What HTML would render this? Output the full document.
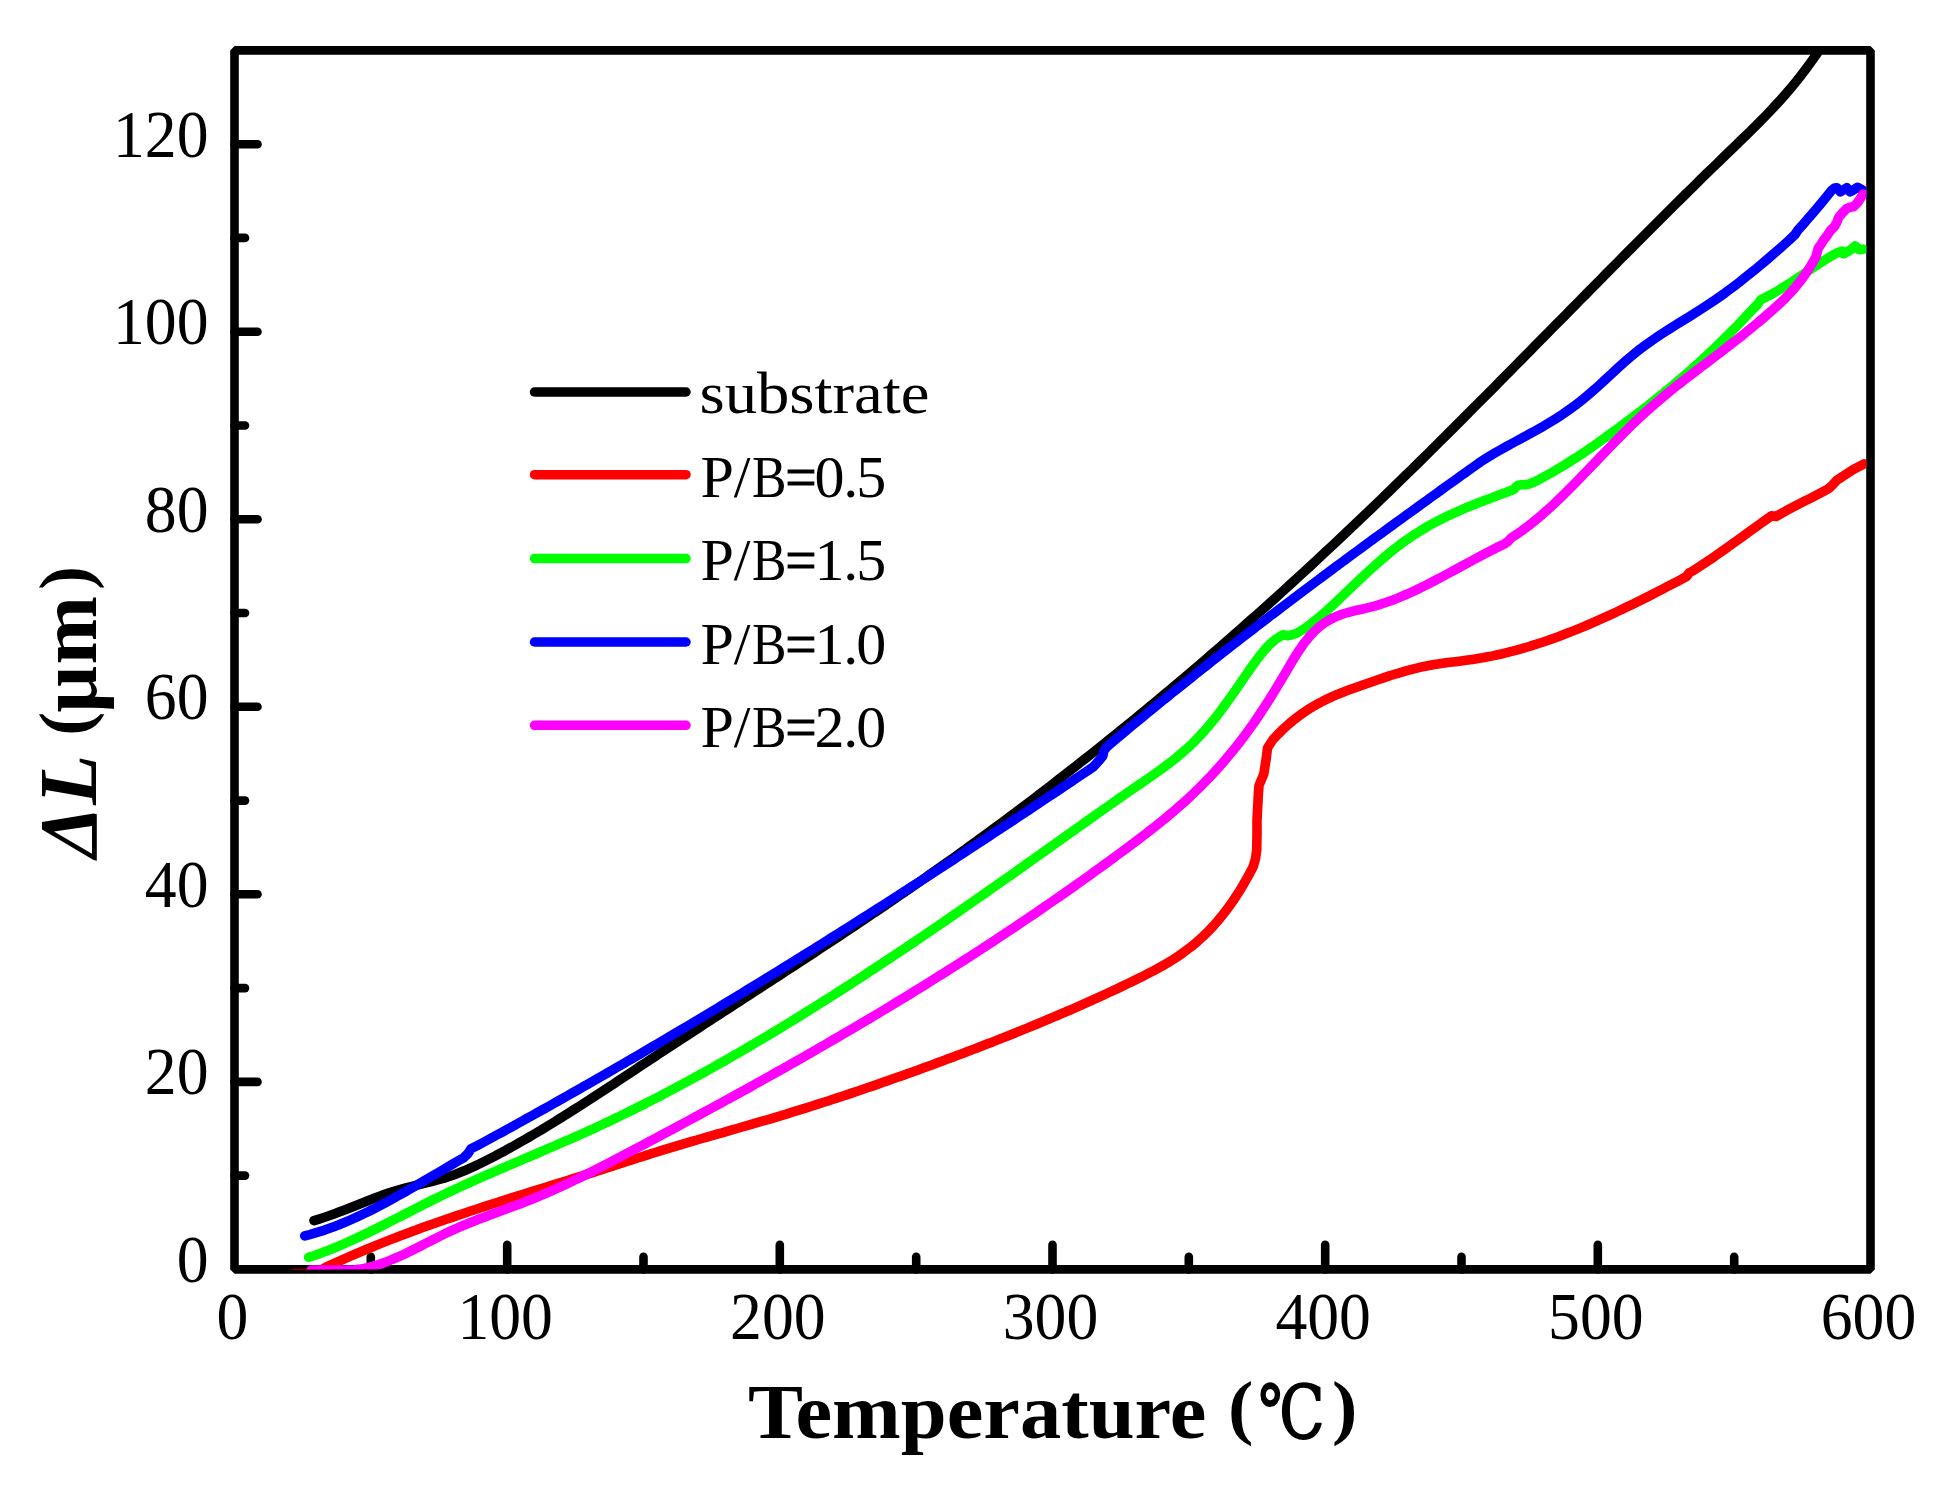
<!DOCTYPE html>
<html lang="en"><head><meta charset="utf-8"><title>Thermal expansion</title>
<style>
html,body{margin:0;padding:0;background:#fff}
body{width:1947px;height:1488px;overflow:hidden}
svg{display:block}
text{font-family:"Liberation Serif","DejaVu Serif",serif;fill:#000}
.tl text{font-size:68.5px}
.lg text{font-size:60px}
</style></head><body>
<svg width="1947" height="1488" viewBox="0 0 1947 1488">
<rect width="1947" height="1488" fill="#fff"/>
<defs><clipPath id="plot"><rect x="234.5" y="50.4" width="1631.8" height="1219.0"/></clipPath></defs>
<rect x="234.5" y="50.4" width="1636.0" height="1219.0" fill="none" stroke="#000" stroke-width="8.6" stroke-linejoin="bevel"/>
<g stroke="#000" stroke-width="8.6" stroke-linecap="round">
<line x1="370.8" y1="1269.4" x2="370.8" y2="1256.9"/>
<line x1="507.2" y1="1269.4" x2="507.2" y2="1244.9"/>
<line x1="643.5" y1="1269.4" x2="643.5" y2="1256.9"/>
<line x1="779.8" y1="1269.4" x2="779.8" y2="1244.9"/>
<line x1="916.2" y1="1269.4" x2="916.2" y2="1256.9"/>
<line x1="1052.5" y1="1269.4" x2="1052.5" y2="1244.9"/>
<line x1="1188.8" y1="1269.4" x2="1188.8" y2="1256.9"/>
<line x1="1325.2" y1="1269.4" x2="1325.2" y2="1244.9"/>
<line x1="1461.5" y1="1269.4" x2="1461.5" y2="1256.9"/>
<line x1="1597.8" y1="1269.4" x2="1597.8" y2="1244.9"/>
<line x1="1734.2" y1="1269.4" x2="1734.2" y2="1256.9"/>
<line x1="234.5" y1="1175.6" x2="245.0" y2="1175.6"/>
<line x1="234.5" y1="1081.9" x2="257.5" y2="1081.9"/>
<line x1="234.5" y1="988.1" x2="245.0" y2="988.1"/>
<line x1="234.5" y1="894.3" x2="257.5" y2="894.3"/>
<line x1="234.5" y1="800.6" x2="245.0" y2="800.6"/>
<line x1="234.5" y1="706.8" x2="257.5" y2="706.8"/>
<line x1="234.5" y1="613.0" x2="245.0" y2="613.0"/>
<line x1="234.5" y1="519.2" x2="257.5" y2="519.2"/>
<line x1="234.5" y1="425.5" x2="245.0" y2="425.5"/>
<line x1="234.5" y1="331.7" x2="257.5" y2="331.7"/>
<line x1="234.5" y1="237.9" x2="245.0" y2="237.9"/>
<line x1="234.5" y1="144.2" x2="257.5" y2="144.2"/>
</g>
<g clip-path="url(#plot)" fill="none" stroke-width="9.6" stroke-linecap="round" stroke-linejoin="round">
<path d="M314.0 1220.6 319.0 1219.1 324.0 1217.5 329.0 1215.8 334.0 1214.0 339.0 1212.1 344.0 1210.2 349.0 1208.2 354.1 1206.2 359.1 1204.2 364.1 1202.2 369.1 1200.2 374.1 1198.3 379.1 1196.4 384.1 1194.6 389.1 1192.9 394.1 1191.3 399.1 1189.8 404.1 1188.4 409.1 1187.1 414.1 1185.8 419.1 1184.6 424.1 1183.4 429.2 1182.2 434.2 1180.9 439.2 1179.5 444.2 1178.1 449.2 1176.5 454.2 1174.7 459.2 1172.8 464.2 1170.8 469.2 1168.6 474.2 1166.3 479.2 1164.0 484.2 1161.5 489.2 1159.0 494.2 1156.4 499.2 1153.7 504.3 1151.1 509.3 1148.3 514.3 1145.6 519.3 1142.7 524.3 1139.9 529.3 1137.0 534.3 1134.0 539.3 1131.1 544.3 1128.1 549.3 1125.0 554.3 1122.0 559.3 1118.9 564.3 1115.7 569.3 1112.6 574.3 1109.4 579.4 1106.2 584.4 1103.0 589.4 1099.8 594.4 1096.5 599.4 1093.3 604.4 1090.0 609.4 1086.7 614.4 1083.4 619.4 1080.1 624.4 1076.8 629.4 1073.5 634.4 1070.2 639.4 1066.8 644.4 1063.5 649.4 1060.2 654.5 1056.9 659.5 1053.6 664.5 1050.3 669.5 1047.0 674.5 1043.7 679.5 1040.5 684.5 1037.2 689.5 1033.9 694.5 1030.7 699.5 1027.4 704.5 1024.1 709.5 1020.9 714.5 1017.6 719.5 1014.4 724.5 1011.1 729.6 1007.9 734.6 1004.6 739.6 1001.4 744.6 998.1 749.6 994.9 754.6 991.6 759.6 988.4 764.6 985.1 769.6 981.9 774.6 978.6 779.6 975.4 784.6 972.1 789.6 968.8 794.6 965.6 799.6 962.3 804.7 959.0 809.7 955.7 814.7 952.4 819.7 949.1 824.7 945.8 829.7 942.5 834.7 939.2 839.7 935.9 844.7 932.6 849.7 929.2 854.7 925.9 859.7 922.6 864.7 919.2 869.7 915.8 874.7 912.4 879.8 909.1 884.8 905.7 889.8 902.3 894.8 898.8 899.8 895.4 904.8 892.0 909.8 888.5 914.8 885.0 919.8 881.6 924.8 878.1 929.8 874.5 934.8 871.0 939.8 867.5 944.8 863.9 949.8 860.4 954.9 856.8 959.9 853.2 964.9 849.6 969.9 846.0 974.9 842.4 979.9 838.7 984.9 835.0 989.9 831.4 994.9 827.7 999.9 824.0 1004.9 820.3 1009.9 816.5 1014.9 812.8 1019.9 809.0 1024.9 805.3 1030.0 801.5 1035.0 797.7 1040.0 793.8 1045.0 790.0 1050.0 786.2 1055.0 782.3 1060.0 778.4 1065.0 774.5 1070.0 770.6 1075.0 766.7 1080.0 762.8 1085.0 758.9 1090.0 754.9 1095.0 750.9 1100.0 746.9 1105.0 742.9 1110.1 738.9 1115.1 734.9 1120.1 730.8 1125.1 726.8 1130.1 722.7 1135.1 718.6 1140.1 714.5 1145.1 710.4 1150.1 706.2 1155.1 702.1 1160.1 697.9 1165.1 693.8 1170.1 689.6 1175.1 685.3 1180.1 681.1 1185.2 676.9 1190.2 672.6 1195.2 668.4 1200.2 664.1 1205.2 659.8 1210.2 655.5 1215.2 651.2 1220.2 646.8 1225.2 642.5 1230.2 638.1 1235.2 633.7 1240.2 629.3 1245.2 624.9 1250.2 620.4 1255.2 616.0 1260.3 611.5 1265.3 607.1 1270.3 602.6 1275.3 598.1 1280.3 593.5 1285.3 589.0 1290.3 584.4 1295.3 579.9 1300.3 575.3 1305.3 570.7 1310.3 566.1 1315.3 561.4 1320.3 556.8 1325.3 552.1 1330.3 547.5 1335.4 542.8 1340.4 538.1 1345.4 533.3 1350.4 528.6 1355.4 523.8 1360.4 519.1 1365.4 514.3 1370.4 509.5 1375.4 504.7 1380.4 499.9 1385.4 495.0 1390.4 490.2 1395.4 485.3 1400.4 480.4 1405.4 475.5 1410.5 470.6 1415.5 465.7 1420.5 460.8 1425.5 455.8 1430.5 450.9 1435.5 445.9 1440.5 440.9 1445.5 436.0 1450.5 431.0 1455.5 426.0 1460.5 421.0 1465.5 416.0 1470.5 410.9 1475.5 405.9 1480.5 400.9 1485.6 395.9 1490.6 390.8 1495.6 385.8 1500.6 380.7 1505.6 375.7 1510.6 370.6 1515.6 365.5 1520.6 360.5 1525.6 355.4 1530.6 350.3 1535.6 345.2 1540.6 340.2 1545.6 335.1 1550.6 330.0 1555.6 324.9 1560.7 319.8 1565.7 314.8 1570.7 309.7 1575.7 304.6 1580.7 299.5 1585.7 294.5 1590.7 289.4 1595.7 284.3 1600.7 279.3 1605.7 274.2 1610.7 269.1 1615.7 264.1 1620.7 259.0 1625.7 254.0 1630.7 249.0 1635.8 243.9 1640.8 238.9 1645.8 233.9 1650.8 228.9 1655.8 223.9 1660.8 218.9 1665.8 213.9 1670.8 208.9 1675.8 203.9 1680.8 199.0 1685.8 194.0 1690.8 189.1 1695.8 184.2 1700.8 179.2 1705.8 174.3 1710.9 169.4 1715.9 164.6 1720.9 159.7 1725.9 154.8 1730.9 150.0 1735.9 145.2 1740.9 140.3 1745.9 135.5 1750.9 130.6 1755.9 125.6 1760.9 120.6 1765.9 115.5 1770.9 110.2 1775.9 104.9 1780.9 99.4 1786.0 93.7 1791.0 87.8 1796.0 81.7 1801.0 75.4 1806.0 68.8 1811.0 62.0 1816.0 54.9 1821.0 47.5" stroke="#000"/>
<path d="M294.0 1273.6 308.0 1273.2 316.0 1271.8 322.0 1269.6 326.0 1267.2 331.0 1264.9 336.0 1262.6 341.0 1260.3 346.0 1258.1 351.1 1255.9 356.1 1253.8 361.1 1251.6 366.1 1249.5 371.1 1247.5 376.1 1245.4 381.1 1243.4 386.1 1241.4 391.2 1239.4 396.2 1237.5 401.2 1235.6 406.2 1233.7 411.2 1231.8 416.2 1230.0 421.2 1228.1 426.2 1226.3 431.3 1224.5 436.3 1222.8 441.3 1221.0 446.3 1219.3 451.3 1217.6 456.3 1215.9 461.3 1214.2 466.3 1212.5 471.4 1210.8 476.4 1209.2 481.4 1207.5 486.4 1205.9 491.4 1204.3 496.4 1202.7 501.4 1201.1 506.4 1199.5 511.5 1197.9 516.5 1196.3 521.5 1194.8 526.5 1193.2 531.5 1191.6 536.5 1190.1 541.5 1188.5 546.5 1187.0 551.6 1185.4 556.6 1183.9 561.6 1182.3 566.6 1180.7 571.6 1179.2 576.6 1177.6 581.6 1176.0 586.6 1174.4 591.7 1172.8 596.7 1171.2 601.7 1169.6 606.7 1168.0 611.7 1166.4 616.7 1164.8 621.7 1163.1 626.7 1161.5 631.8 1159.9 636.8 1158.3 641.8 1156.7 646.8 1155.1 651.8 1153.5 656.8 1152.0 661.8 1150.4 666.8 1148.9 671.9 1147.4 676.9 1145.9 681.9 1144.4 686.9 1142.9 691.9 1141.4 696.9 1140.0 701.9 1138.5 706.9 1137.1 712.0 1135.7 717.0 1134.2 722.0 1132.8 727.0 1131.3 732.0 1129.9 737.0 1128.5 742.0 1127.0 747.0 1125.6 752.1 1124.1 757.1 1122.7 762.1 1121.2 767.1 1119.8 772.1 1118.3 777.1 1116.8 782.1 1115.3 787.1 1113.8 792.2 1112.2 797.2 1110.7 802.2 1109.1 807.2 1107.6 812.2 1106.0 817.2 1104.4 822.2 1102.8 827.2 1101.2 832.3 1099.5 837.3 1097.9 842.3 1096.3 847.3 1094.6 852.3 1092.9 857.3 1091.2 862.3 1089.5 867.3 1087.8 872.4 1086.1 877.4 1084.4 882.4 1082.6 887.4 1080.9 892.4 1079.1 897.4 1077.3 902.4 1075.6 907.4 1073.8 912.5 1072.0 917.5 1070.2 922.5 1068.3 927.5 1066.5 932.5 1064.7 937.5 1062.8 942.5 1061.0 947.5 1059.1 952.6 1057.2 957.6 1055.3 962.6 1053.5 967.6 1051.6 972.6 1049.6 977.6 1047.7 982.6 1045.8 987.6 1043.8 992.7 1041.9 997.7 1039.9 1002.7 1037.9 1007.7 1036.0 1012.7 1034.0 1017.7 1031.9 1022.7 1029.9 1027.7 1027.9 1032.8 1025.8 1037.8 1023.7 1042.8 1021.6 1047.8 1019.5 1052.8 1017.4 1057.8 1015.3 1062.8 1013.1 1067.8 1011.0 1072.9 1008.8 1077.9 1006.6 1082.9 1004.4 1087.9 1002.1 1092.9 999.9 1097.9 997.6 1102.9 995.3 1107.9 993.0 1113.0 990.7 1118.0 988.3 1123.0 985.9 1128.0 983.5 1133.0 981.1 1138.0 978.7 1143.0 976.2 1148.0 973.6 1153.1 971.0 1158.1 968.3 1163.1 965.5 1168.1 962.6 1173.1 959.5 1178.1 956.2 1183.1 952.7 1188.1 949.0 1193.2 945.1 1198.2 940.8 1203.2 936.3 1208.2 931.4 1213.2 926.1 1218.2 920.4 1223.2 914.3 1228.2 907.7 1233.3 900.5 1238.3 892.9 1243.3 884.7 1248.3 875.9 1253.3 866.4 1255.6 858.2 1256.7 850.0 1257.0 835.0 1257.0 820.2 1258.4 793.5 1259.0 785.5 1263.8 774.0 1266.3 758.0 1267.5 748.0 1273.0 739.5 1278.0 734.2 1283.0 729.3 1288.0 724.7 1293.0 720.5 1298.0 716.6 1303.0 713.0 1307.9 709.7 1312.9 706.6 1317.9 703.8 1322.9 701.1 1327.9 698.7 1332.9 696.4 1337.9 694.2 1342.9 692.2 1347.9 690.3 1352.9 688.5 1357.9 686.7 1362.9 684.9 1367.9 683.2 1372.9 681.5 1377.8 679.7 1382.8 678.1 1387.8 676.4 1392.8 674.8 1397.8 673.3 1402.8 671.8 1407.8 670.4 1412.8 669.1 1417.8 667.9 1422.8 666.7 1427.8 665.7 1432.8 664.8 1437.8 664.0 1442.8 663.3 1447.7 662.6 1452.7 662.0 1457.7 661.4 1462.7 660.7 1467.7 660.1 1472.7 659.4 1477.7 658.6 1482.7 657.8 1487.7 656.8 1492.7 655.9 1497.7 654.8 1502.7 653.7 1507.7 652.4 1512.6 651.2 1517.6 649.8 1522.6 648.4 1527.6 647.0 1532.6 645.4 1537.6 643.8 1542.6 642.2 1547.6 640.5 1552.6 638.7 1557.6 636.9 1562.6 635.0 1567.6 633.1 1572.6 631.1 1577.6 629.1 1582.5 627.1 1587.5 625.0 1592.5 622.8 1597.5 620.6 1602.5 618.4 1607.5 616.1 1612.5 613.8 1617.5 611.5 1622.5 609.1 1627.5 606.7 1632.5 604.3 1637.5 601.9 1642.5 599.4 1647.5 596.9 1652.4 594.4 1657.4 591.8 1662.4 589.2 1667.4 586.6 1672.4 584.0 1677.4 581.4 1682.4 578.8 1686.5 576.5 1689.5 572.5 1692.7 571.0 1697.7 567.8 1702.6 564.6 1707.6 561.2 1712.5 557.9 1717.5 554.4 1722.4 551.0 1727.4 547.5 1732.3 543.9 1737.3 540.4 1742.2 536.8 1747.2 533.2 1752.1 529.7 1757.1 526.1 1762.0 522.5 1767.0 519.0 1770.0 516.8 1771.5 515.8 1776.0 516.5 1780.8 513.8 1785.6 511.1 1790.3 508.6 1795.1 506.1 1799.9 503.6 1804.7 501.1 1809.5 498.7 1814.3 496.2 1819.0 493.8 1823.8 491.2 1828.6 488.6 1832.0 485.5 1836.8 480.3 1853.3 469.4 1863.9 463.9" stroke="#f00"/>
<path d="M308.7 1257.3 313.7 1255.7 318.7 1253.9 323.7 1252.1 328.7 1250.2 333.7 1248.2 338.7 1246.1 343.8 1243.9 348.8 1241.7 353.8 1239.4 358.8 1237.1 363.8 1234.7 368.8 1232.3 373.8 1229.9 378.8 1227.4 383.8 1224.9 388.8 1222.3 393.8 1219.8 398.8 1217.2 403.9 1214.6 408.9 1212.1 413.9 1209.5 418.9 1206.9 423.9 1204.4 428.9 1201.9 433.9 1199.4 438.9 1197.0 443.9 1194.5 448.9 1192.1 453.9 1189.8 458.9 1187.5 464.0 1185.2 469.0 1182.9 474.0 1180.6 479.0 1178.4 484.0 1176.2 489.0 1174.0 494.0 1171.8 499.0 1169.6 504.0 1167.5 509.0 1165.3 514.0 1163.2 519.0 1161.1 524.1 1158.9 529.1 1156.8 534.1 1154.7 539.1 1152.5 544.1 1150.4 549.1 1148.2 554.1 1146.1 559.1 1143.9 564.1 1141.7 569.1 1139.6 574.1 1137.3 579.1 1135.1 584.2 1132.9 589.2 1130.6 594.2 1128.3 599.2 1126.0 604.2 1123.6 609.2 1121.3 614.2 1118.9 619.2 1116.5 624.2 1114.0 629.2 1111.6 634.2 1109.1 639.2 1106.6 644.3 1104.1 649.3 1101.5 654.3 1099.0 659.3 1096.4 664.3 1093.8 669.3 1091.1 674.3 1088.5 679.3 1085.8 684.3 1083.1 689.3 1080.4 694.3 1077.7 699.3 1075.0 704.4 1072.2 709.4 1069.4 714.4 1066.6 719.4 1063.8 724.4 1061.0 729.4 1058.1 734.4 1055.2 739.4 1052.3 744.4 1049.4 749.4 1046.5 754.4 1043.5 759.4 1040.6 764.5 1037.6 769.5 1034.6 774.5 1031.6 779.5 1028.6 784.5 1025.5 789.5 1022.5 794.5 1019.4 799.5 1016.3 804.5 1013.2 809.5 1010.1 814.5 1007.0 819.5 1003.8 824.5 1000.7 829.6 997.5 834.6 994.3 839.6 991.1 844.6 987.9 849.6 984.7 854.6 981.4 859.6 978.2 864.6 974.9 869.6 971.6 874.6 968.4 879.6 965.1 884.6 961.7 889.7 958.4 894.7 955.1 899.7 951.7 904.7 948.4 909.7 945.0 914.7 941.7 919.7 938.3 924.7 934.9 929.7 931.5 934.7 928.1 939.7 924.6 944.7 921.2 949.8 917.8 954.8 914.3 959.8 910.9 964.8 907.4 969.8 903.9 974.8 900.4 979.8 896.9 984.8 893.5 989.8 889.9 994.8 886.4 999.8 882.9 1004.8 879.4 1009.9 875.9 1014.9 872.3 1019.9 868.8 1024.9 865.3 1029.9 861.7 1034.9 858.1 1039.9 854.6 1044.9 851.0 1049.9 847.5 1054.9 843.9 1059.9 840.3 1064.9 836.8 1070.0 833.2 1075.0 829.6 1080.0 826.1 1085.0 822.5 1090.0 819.0 1095.0 815.4 1100.0 811.9 1105.0 808.4 1110.0 804.9 1115.0 801.3 1120.0 797.8 1125.0 794.4 1130.1 790.9 1135.1 787.4 1140.1 784.0 1145.1 780.6 1150.1 777.1 1155.1 773.6 1160.1 770.1 1165.1 766.4 1170.1 762.6 1175.1 758.7 1180.1 754.5 1185.1 750.2 1190.2 745.6 1195.2 740.7 1200.2 735.5 1205.2 730.0 1210.2 724.1 1215.2 717.9 1220.2 711.5 1225.2 704.7 1230.2 697.8 1235.2 690.7 1240.2 683.4 1245.2 676.1 1250.3 668.8 1255.3 661.7 1260.3 655.1 1265.3 649.1 1270.3 643.8 1275.3 639.5 1280.3 636.4 1283.0 634.7 1287.2 635.7 1291.5 635.0 1297.1 633.0 1302.1 630.0 1307.2 626.7 1312.2 622.9 1317.3 618.9 1322.3 614.6 1327.4 610.1 1332.4 605.5 1337.5 600.7 1342.5 595.9 1347.5 591.1 1352.6 586.3 1357.6 581.5 1362.7 576.8 1367.7 572.1 1372.8 567.5 1377.8 562.9 1382.9 558.5 1387.9 554.3 1392.9 550.1 1398.0 546.2 1403.0 542.4 1408.1 538.8 1413.1 535.4 1418.2 532.2 1423.2 529.1 1428.2 526.1 1433.3 523.3 1438.3 520.7 1443.4 518.1 1448.4 515.7 1453.5 513.3 1458.5 511.1 1463.6 508.9 1468.6 506.8 1473.6 504.8 1478.7 502.8 1483.7 500.8 1488.8 498.9 1493.8 497.0 1498.9 495.1 1503.9 493.2 1509.0 491.2 1514.0 489.3 1516.0 487.0 1518.0 485.2 1521.0 484.8 1525.0 484.8 1529.0 484.0 1533.6 482.3 1538.6 479.8 1543.5 477.1 1548.5 474.4 1553.5 471.6 1558.4 468.7 1563.4 465.7 1568.3 462.6 1573.3 459.4 1578.3 456.2 1583.2 452.9 1588.2 449.5 1593.2 446.1 1598.1 442.6 1603.1 439.1 1608.1 435.5 1613.0 431.9 1618.0 428.3 1622.9 424.6 1627.9 420.9 1632.9 417.2 1637.8 413.4 1642.8 409.6 1647.8 405.7 1652.7 401.8 1657.7 397.8 1662.7 393.8 1667.6 389.8 1672.6 385.6 1677.5 381.4 1682.5 377.2 1687.5 372.9 1692.4 368.5 1697.4 364.1 1702.4 359.5 1707.3 354.9 1712.3 350.3 1717.3 345.5 1722.2 340.7 1727.2 335.8 1732.1 330.8 1737.1 325.8 1742.1 320.6 1747.0 315.3 1752.0 310.0 1757.0 305.0 1761.0 299.5 1766.1 297.1 1771.1 294.5 1776.2 291.6 1781.3 288.6 1786.3 285.4 1791.4 282.2 1796.5 278.8 1801.5 275.4 1806.6 272.0 1811.7 268.6 1816.7 265.2 1821.8 261.9 1826.9 258.7 1831.9 255.7 1837.0 252.8 1841.9 251.2 1843.5 253.7 1846.8 252.0 1850.9 249.6 1855.0 246.0 1856.7 247.1 1859.2 249.6 1863.3 249.2" stroke="#0f0"/>
<path d="M304.7 1235.9 309.7 1234.6 314.6 1233.2 319.6 1231.7 324.6 1230.1 329.5 1228.3 334.5 1226.5 339.5 1224.5 344.4 1222.5 349.4 1220.4 354.4 1218.2 359.3 1215.9 364.3 1213.5 369.3 1211.1 374.2 1208.6 379.2 1206.0 384.1 1203.4 389.1 1200.7 394.1 1198.0 399.0 1195.2 404.0 1192.5 409.0 1189.6 413.9 1186.8 418.9 1183.9 423.9 1181.0 428.8 1178.1 433.8 1175.2 438.8 1172.3 443.7 1169.4 448.7 1166.4 453.7 1163.5 458.6 1160.7 463.6 1157.8 468.0 1153.5 471.0 1148.8 477.0 1145.8 482.0 1143.1 487.0 1140.4 492.0 1137.6 497.0 1134.9 502.1 1132.2 507.1 1129.4 512.1 1126.7 517.1 1123.9 522.1 1121.1 527.1 1118.3 532.1 1115.6 537.1 1112.8 542.1 1110.0 547.2 1107.2 552.2 1104.4 557.2 1101.5 562.2 1098.7 567.2 1095.9 572.2 1093.0 577.2 1090.2 582.2 1087.3 587.3 1084.5 592.3 1081.6 597.3 1078.8 602.3 1075.9 607.3 1073.0 612.3 1070.1 617.3 1067.2 622.3 1064.3 627.3 1061.4 632.4 1058.5 637.4 1055.6 642.4 1052.6 647.4 1049.7 652.4 1046.7 657.4 1043.8 662.4 1040.8 667.4 1037.9 672.4 1034.9 677.5 1031.9 682.5 1029.0 687.5 1026.0 692.5 1023.0 697.5 1020.0 702.5 1017.0 707.5 1014.0 712.5 1011.0 717.5 1008.0 722.6 1004.9 727.6 1001.9 732.6 998.9 737.6 995.8 742.6 992.8 747.6 989.7 752.6 986.6 757.6 983.6 762.6 980.5 767.7 977.4 772.7 974.4 777.7 971.3 782.7 968.2 787.7 965.1 792.7 962.0 797.7 958.9 802.7 955.7 807.8 952.6 812.8 949.5 817.8 946.4 822.8 943.2 827.8 940.1 832.8 936.9 837.8 933.8 842.8 930.6 847.8 927.5 852.9 924.3 857.9 921.1 862.9 917.9 867.9 914.8 872.9 911.6 877.9 908.4 882.9 905.2 887.9 902.0 892.9 898.8 898.0 895.6 903.0 892.3 908.0 889.1 913.0 885.9 918.0 882.7 923.0 879.4 928.0 876.2 933.0 872.9 938.0 869.7 943.1 866.4 948.1 863.2 953.1 859.9 958.1 856.6 963.1 853.4 968.1 850.1 973.1 846.8 978.1 843.5 983.1 840.2 988.2 836.9 993.2 833.6 998.2 830.3 1003.2 827.0 1008.2 823.7 1013.2 820.4 1018.2 817.1 1023.2 813.8 1028.3 810.4 1033.3 807.1 1038.3 803.8 1043.3 800.4 1048.3 797.1 1053.3 793.7 1058.3 790.4 1063.3 787.0 1068.3 783.7 1073.4 780.3 1078.4 776.9 1083.4 773.6 1088.4 770.2 1093.4 766.8 1100.0 759.5 1102.8 756.0 1104.0 750.5 1107.5 746.2 1112.5 742.0 1117.5 737.8 1122.4 733.7 1127.4 729.5 1132.4 725.4 1137.4 721.3 1142.4 717.2 1147.3 713.1 1152.3 709.0 1157.3 705.0 1162.3 700.9 1167.3 696.9 1172.2 692.9 1177.2 688.9 1182.2 684.9 1187.2 680.9 1192.2 676.9 1197.1 672.9 1202.1 669.0 1207.1 665.1 1212.1 661.1 1217.1 657.2 1222.0 653.3 1227.0 649.4 1232.0 645.5 1237.0 641.7 1242.0 637.8 1246.9 634.0 1251.9 630.1 1256.9 626.3 1261.9 622.5 1266.9 618.6 1271.8 614.8 1276.8 611.1 1281.8 607.3 1286.8 603.5 1291.8 599.7 1296.7 596.0 1301.7 592.2 1306.7 588.5 1311.7 584.7 1316.7 581.0 1321.6 577.3 1326.6 573.6 1331.6 569.9 1336.6 566.2 1341.6 562.5 1346.5 558.8 1351.5 555.2 1356.5 551.5 1361.5 547.8 1366.5 544.2 1371.4 540.5 1376.4 536.9 1381.4 533.3 1386.4 529.6 1391.4 526.0 1396.3 522.4 1401.3 518.8 1406.3 515.2 1411.3 511.6 1416.3 508.0 1421.2 504.4 1426.2 500.8 1431.2 497.2 1436.2 493.6 1441.2 490.0 1446.1 486.4 1451.1 482.9 1456.1 479.3 1461.1 475.7 1466.1 472.2 1471.0 468.6 1476.0 465.1 1481.0 461.5 1486.0 458.4 1490.9 455.4 1495.9 452.4 1500.9 449.6 1505.9 446.8 1510.8 444.1 1515.8 441.4 1520.8 438.7 1525.8 436.0 1530.7 433.3 1535.7 430.6 1540.7 427.8 1545.6 424.9 1550.6 421.9 1555.6 418.8 1560.6 415.6 1565.5 412.2 1570.5 408.7 1575.5 405.1 1580.5 401.2 1585.4 397.2 1590.4 393.0 1595.4 388.7 1600.3 384.2 1605.3 379.6 1610.3 375.0 1615.3 370.4 1620.2 365.8 1625.2 361.4 1630.2 357.1 1635.2 353.0 1640.1 349.1 1645.1 345.4 1650.1 341.8 1655.0 338.4 1660.0 335.0 1665.0 331.8 1670.0 328.6 1674.9 325.5 1679.9 322.4 1684.9 319.3 1689.8 316.3 1694.8 313.2 1699.8 310.0 1704.8 306.8 1709.7 303.6 1714.7 300.2 1719.7 296.7 1724.7 293.2 1729.6 289.5 1734.6 285.8 1739.6 282.0 1744.5 278.1 1749.5 274.1 1754.5 270.1 1759.5 265.9 1764.4 261.8 1769.4 257.5 1774.4 253.2 1779.4 248.9 1784.3 244.5 1789.3 240.0 1795.0 234.5 1798.0 230.0 1802.8 224.7 1807.6 219.2 1812.4 213.6 1817.3 207.9 1822.1 202.1 1826.9 196.2 1831.7 190.2 1834.2 188.3 1837.0 187.7 1840.3 191.8 1842.7 190.4 1846.8 187.7 1850.1 191.8 1853.4 190.0 1857.5 187.3 1861.6 189.4 1863.5 191.0" stroke="#00f"/>
<path d="M311.4 1270.0 350.0 1270.0 355.0 1269.7 360.0 1269.1 365.0 1268.2 370.0 1267.1 375.0 1265.7 380.0 1264.1 385.0 1262.4 390.0 1260.4 395.0 1258.3 400.0 1256.1 405.0 1253.8 410.0 1251.4 415.0 1248.9 420.0 1246.4 425.0 1243.8 430.0 1241.3 434.9 1238.7 439.9 1236.2 444.9 1233.7 449.9 1231.4 454.9 1229.1 459.9 1226.9 464.9 1224.8 469.9 1222.7 474.9 1220.7 479.9 1218.8 484.9 1216.9 489.9 1215.0 494.9 1213.2 499.9 1211.3 504.9 1209.5 509.9 1207.6 514.9 1205.8 519.9 1203.9 524.9 1202.0 529.9 1200.0 534.9 1198.0 539.9 1195.9 544.9 1193.8 549.9 1191.6 554.9 1189.3 559.9 1187.1 564.9 1184.8 569.9 1182.4 574.9 1180.0 579.9 1177.6 584.9 1175.1 589.9 1172.6 594.9 1170.1 599.8 1167.6 604.8 1165.0 609.8 1162.4 614.8 1159.8 619.8 1157.2 624.8 1154.6 629.8 1151.9 634.8 1149.3 639.8 1146.6 644.8 1144.0 649.8 1141.3 654.8 1138.7 659.8 1136.0 664.8 1133.3 669.8 1130.7 674.8 1128.0 679.8 1125.3 684.8 1122.6 689.8 1119.9 694.8 1117.2 699.8 1114.5 704.8 1111.8 709.8 1109.1 714.8 1106.4 719.8 1103.7 724.8 1100.9 729.8 1098.2 734.8 1095.5 739.8 1092.7 744.8 1090.0 749.8 1087.2 754.8 1084.4 759.8 1081.6 764.7 1078.9 769.7 1076.1 774.7 1073.3 779.7 1070.5 784.7 1067.7 789.7 1064.8 794.7 1062.0 799.7 1059.2 804.7 1056.3 809.7 1053.5 814.7 1050.6 819.7 1047.7 824.7 1044.8 829.7 1041.9 834.7 1039.0 839.7 1036.1 844.7 1033.2 849.7 1030.3 854.7 1027.3 859.7 1024.4 864.7 1021.4 869.7 1018.5 874.7 1015.5 879.7 1012.5 884.7 1009.5 889.7 1006.5 894.7 1003.4 899.7 1000.4 904.7 997.4 909.7 994.3 914.7 991.2 919.7 988.2 924.7 985.1 929.6 982.0 934.6 978.8 939.6 975.7 944.6 972.6 949.6 969.4 954.6 966.2 959.6 963.1 964.6 959.9 969.6 956.7 974.6 953.4 979.6 950.2 984.6 946.9 989.6 943.7 994.6 940.4 999.6 937.1 1004.6 933.8 1009.6 930.5 1014.6 927.2 1019.6 923.8 1024.6 920.4 1029.6 917.1 1034.6 913.7 1039.6 910.3 1044.6 906.8 1049.6 903.4 1054.6 899.9 1059.6 896.5 1064.6 893.0 1069.6 889.5 1074.6 886.0 1079.6 882.4 1084.6 878.9 1089.6 875.3 1094.5 871.7 1099.5 868.1 1104.5 864.5 1109.5 860.8 1114.5 857.2 1119.5 853.5 1124.5 849.8 1129.5 846.1 1134.5 842.4 1139.5 838.6 1144.5 834.8 1149.5 830.9 1154.5 827.0 1159.5 823.0 1164.5 819.0 1169.5 814.8 1174.5 810.6 1179.5 806.2 1184.5 801.8 1189.5 797.2 1194.5 792.4 1199.5 787.6 1204.5 782.5 1209.5 777.4 1214.5 772.0 1219.5 766.5 1224.5 760.8 1229.5 754.8 1234.5 748.7 1239.5 742.4 1244.5 735.8 1249.5 729.0 1254.5 722.0 1259.4 714.7 1264.4 707.1 1269.4 699.3 1274.4 691.3 1279.4 683.0 1284.4 674.6 1289.4 666.1 1294.4 657.8 1299.4 649.9 1304.4 642.7 1309.4 636.6 1314.4 631.3 1319.4 626.8 1324.4 623.0 1329.4 619.9 1334.4 617.4 1339.4 615.3 1344.4 613.5 1349.4 612.1 1354.4 610.8 1359.4 609.7 1364.4 608.6 1369.4 607.4 1374.4 606.1 1379.4 604.6 1384.4 603.0 1389.4 601.3 1394.4 599.4 1399.4 597.4 1404.4 595.3 1409.4 593.1 1414.4 590.8 1419.4 588.4 1424.3 586.0 1429.3 583.4 1434.3 580.9 1439.3 578.3 1444.3 575.6 1449.3 572.9 1454.3 570.2 1459.3 567.5 1464.3 564.8 1469.3 562.1 1474.3 559.4 1479.3 556.7 1484.3 554.0 1489.3 551.4 1494.3 548.9 1499.3 546.4 1504.3 544.0 1508.0 541.5 1511.0 538.0 1516.0 534.8 1521.0 531.4 1526.0 527.7 1531.0 523.9 1536.0 519.8 1541.0 515.6 1546.0 511.2 1551.0 506.7 1556.0 502.0 1561.0 497.2 1565.9 492.3 1570.9 487.3 1575.9 482.3 1580.9 477.2 1585.9 472.0 1590.9 466.8 1595.9 461.6 1600.9 456.4 1605.9 451.2 1610.9 446.0 1615.9 440.9 1620.9 435.8 1625.9 430.8 1630.9 425.9 1635.9 421.1 1640.9 416.4 1645.9 411.8 1650.9 407.4 1655.9 403.1 1660.9 398.8 1665.8 394.7 1670.8 390.6 1675.8 386.6 1680.8 382.7 1685.8 378.8 1690.8 375.0 1695.8 371.1 1700.8 367.3 1705.8 363.6 1710.8 359.8 1715.8 356.0 1720.8 352.2 1725.8 348.3 1730.8 344.4 1735.8 340.5 1740.8 336.6 1745.8 332.6 1750.8 328.5 1755.8 324.4 1760.8 320.2 1765.7 316.0 1770.7 311.6 1775.7 307.2 1780.7 302.6 1785.7 297.8 1790.7 292.5 1795.7 286.8 1800.7 280.6 1805.7 273.7 1810.7 266.0 1815.7 257.5 1818.3 248.0 1820.5 245.0 1823.7 240.0 1827.1 235.6 1830.4 230.5 1834.5 226.5 1837.0 222.0 1838.6 217.5 1842.7 212.6 1846.8 208.5 1850.1 207.3 1853.4 206.8 1857.5 202.7 1860.8 197.8 1863.3 194.1" stroke="#f0f"/>
</g>
<g stroke-width="9.5" stroke-linecap="round">
<line x1="534.5" y1="392.0" x2="686" y2="392.0" stroke="#000"/>
<line x1="534.5" y1="474.7" x2="686" y2="474.7" stroke="#f00"/>
<line x1="534.5" y1="558.6" x2="686" y2="558.6" stroke="#0f0"/>
<line x1="534.5" y1="642.0" x2="686" y2="642.0" stroke="#00f"/>
<line x1="534.5" y1="725.3" x2="686" y2="725.3" stroke="#f0f"/>
</g>
<g class="lg">
<text transform="translate(699.5 413.2) scale(1.078 1)">substrate</text>
<text x="700.5" y="496.5">P/<tspan dx="1.5" textLength="34.5" lengthAdjust="spacingAndGlyphs">B</tspan><tspan dx="-1.4" stroke="#000" stroke-width="0.9" textLength="31.4" lengthAdjust="spacingAndGlyphs">=</tspan><tspan dx="-2">0</tspan><tspan dx="-1.3">.</tspan><tspan dx="-2">5</tspan></text>
<text x="700.5" y="580.4">P/<tspan dx="1.5" textLength="34.5" lengthAdjust="spacingAndGlyphs">B</tspan><tspan dx="-1.4" stroke="#000" stroke-width="0.9" textLength="31.4" lengthAdjust="spacingAndGlyphs">=</tspan><tspan dx="-2">1</tspan><tspan dx="-1.3">.</tspan><tspan dx="-2">5</tspan></text>
<text x="700.5" y="663.8">P/<tspan dx="1.5" textLength="34.5" lengthAdjust="spacingAndGlyphs">B</tspan><tspan dx="-1.4" stroke="#000" stroke-width="0.9" textLength="31.4" lengthAdjust="spacingAndGlyphs">=</tspan><tspan dx="-2">1</tspan><tspan dx="-1.3">.</tspan><tspan dx="-2">0</tspan></text>
<text x="700.5" y="747.1">P/<tspan dx="1.5" textLength="34.5" lengthAdjust="spacingAndGlyphs">B</tspan><tspan dx="-1.4" stroke="#000" stroke-width="0.9" textLength="31.4" lengthAdjust="spacingAndGlyphs">=</tspan><tspan dx="-2">2</tspan><tspan dx="-1.3">.</tspan><tspan dx="-2">0</tspan></text>
</g>
<g class="tl">
<text text-anchor="middle" transform="translate(232.5 1338.8) scale(0.93 1)">0</text>
<text text-anchor="middle" transform="translate(505.2 1338.8) scale(0.93 1)">100</text>
<text text-anchor="middle" transform="translate(777.8 1338.8) scale(0.93 1)">200</text>
<text text-anchor="middle" transform="translate(1050.5 1338.8) scale(0.93 1)">300</text>
<text text-anchor="middle" transform="translate(1323.2 1338.8) scale(0.93 1)">400</text>
<text text-anchor="middle" transform="translate(1595.8 1338.8) scale(0.93 1)">500</text>
<text text-anchor="middle" transform="translate(1868.5 1338.8) scale(0.93 1)">600</text>
<text text-anchor="end" transform="translate(208.5 1281.9) scale(0.93 1)">0</text>
<text text-anchor="end" transform="translate(208.5 1094.4) scale(0.93 1)">20</text>
<text text-anchor="end" transform="translate(208.5 906.8) scale(0.93 1)">40</text>
<text text-anchor="end" transform="translate(208.5 719.3) scale(0.93 1)">60</text>
<text text-anchor="end" transform="translate(208.5 531.7) scale(0.93 1)">80</text>
<text text-anchor="end" transform="translate(208.5 344.2) scale(0.93 1)">100</text>
<text text-anchor="end" transform="translate(208.5 156.7) scale(0.93 1)">120</text>
</g>
<text transform="translate(748 1437.6) scale(1.058 1)" font-size="78" font-weight="bold">Temperature <tspan x="453.7" dy="-6.5" font-size="72">(</tspan><tspan x="482.6" dy="6.5" font-family="'Liberation Serif','DejaVu Serif','Noto Serif CJK SC',serif" font-weight="normal" font-size="74" textLength="62.5" lengthAdjust="spacingAndGlyphs" stroke="#000" stroke-width="1.8" stroke-linejoin="round">℃</tspan><tspan x="552.1" dy="-6.5" font-size="72">)</tspan></text>
<text transform="translate(96.3 858) rotate(-90) scale(0.99 1)" font-size="83" font-weight="bold"><tspan font-style="italic">Δ<tspan dx="1.6">L</tspan></tspan><tspan dx="1.1" dy="-6.9" font-size="72"> (</tspan><tspan dx="-0.5" dy="6.9">μ</tspan><tspan dx="1.5">m</tspan><tspan dx="6.3" dy="-6.9" font-size="72">)</tspan></text>
</svg>
</body></html>
